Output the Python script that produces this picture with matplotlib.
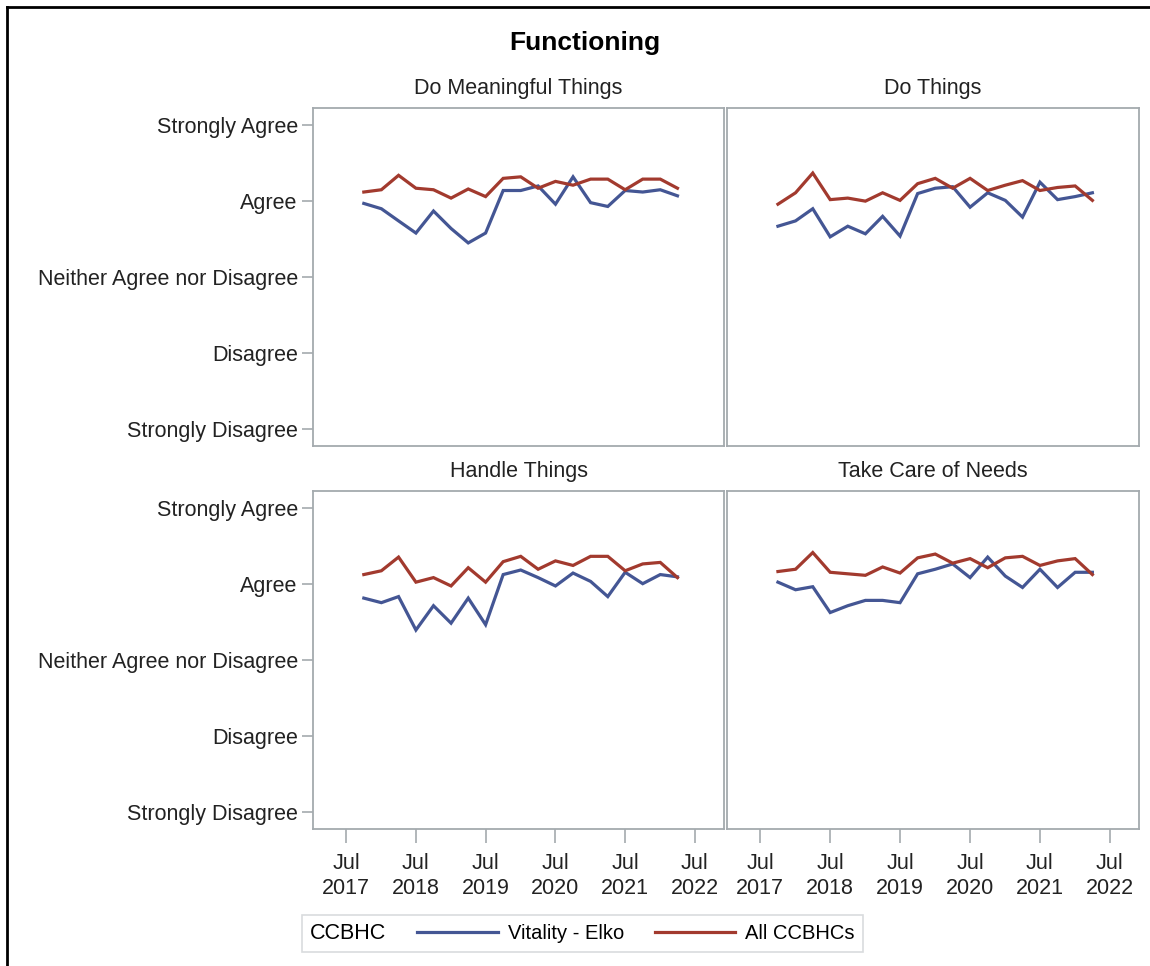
import datetime as dt
import matplotlib
matplotlib.use('Agg')
import matplotlib.pyplot as plt
import matplotlib.dates as mdates
from matplotlib.lines import Line2D

# quarterly survey dates
quarters = ['2017-10-01', '2018-01-01', '2018-04-01', '2018-07-01', '2018-10-01',
            '2019-01-01', '2019-04-01', '2019-07-01', '2019-10-01', '2020-01-01',
            '2020-04-01', '2020-07-01', '2020-10-01', '2021-01-01', '2021-04-01',
            '2021-07-01', '2021-10-01', '2022-01-01', '2022-04-01']

panel_titles = ['Do Meaningful Things', 'Do Things', 'Handle Things', 'Take Care of Needs']
series_names = ['Vitality - Elko', 'All CCBHCs']
y_labels = ['Strongly Disagree', 'Disagree', 'Neither Agree nor Disagree', 'Agree', 'Strongly Agree']

# Vitality - Elko (1 = Strongly Disagree ... 5 = Strongly Agree)
elko_meaningful = [3.97, 3.90, 3.74, 3.58, 3.87, 3.64, 3.45, 3.58, 4.14, 4.14,
                   4.20, 3.96, 4.32, 3.98, 3.93, 4.14, 4.12, 4.15, 4.07]
elko_do = [3.67, 3.74, 3.90, 3.53, 3.67, 3.57, 3.80, 3.54, 4.10, 4.17,
           4.19, 3.92, 4.11, 4.01, 3.79, 4.25, 4.02, 4.06, 4.11]
elko_handle = [3.81, 3.75, 3.83, 3.39, 3.71, 3.48, 3.81, 3.46, 4.12, 4.18,
               4.08, 3.97, 4.14, 4.03, 3.83, 4.15, 4.00, 4.12, 4.09]
elko_needs = [4.02, 3.92, 3.96, 3.62, 3.71, 3.78, 3.78, 3.75, 4.13, 4.19,
              4.26, 4.08, 4.35, 4.10, 3.95, 4.19, 3.95, 4.15, 4.15]

# All CCBHCs
all_meaningful = [4.12, 4.15, 4.34, 4.17, 4.15, 4.04, 4.16, 4.06, 4.30, 4.32,
                  4.17, 4.26, 4.21, 4.29, 4.29, 4.15, 4.29, 4.29, 4.17]
all_do = [3.96, 4.11, 4.37, 4.02, 4.04, 4.00, 4.11, 4.01, 4.23, 4.30,
          4.17, 4.30, 4.14, 4.21, 4.27, 4.14, 4.18, 4.20, 4.01]
all_handle = [4.12, 4.17, 4.35, 4.02, 4.08, 3.97, 4.21, 4.02, 4.29, 4.36,
              4.19, 4.30, 4.24, 4.36, 4.36, 4.17, 4.26, 4.28, 4.08]
all_needs = [4.16, 4.19, 4.41, 4.15, 4.13, 4.11, 4.22, 4.14, 4.34, 4.39,
             4.27, 4.33, 4.21, 4.34, 4.36, 4.24, 4.30, 4.33, 4.12]

elko = [elko_meaningful, elko_do, elko_handle, elko_needs]
allc = [all_meaningful, all_do, all_handle, all_needs]

BLUE = '#445694'
RED = '#A23A2E'
FRAME = '#A4AAAE'
TXT = '#222222'
FS = 15.5

plt.rcParams['font.family'] = ['Liberation Sans', 'DejaVu Sans']

dates = [dt.datetime.strptime(d, '%Y-%m-%d') for d in quarters]
tick_dates = [dt.datetime(y, 7, 1) for y in range(2017, 2023)]

fig = plt.figure(figsize=(11.5, 9.66), dpi=100)

# panel positions [left, bottom, width, height]
lefts = [0.2722, 0.6322]
widths = [0.3574, 0.3583]
bottoms = [0.5378, 0.1418]
height = 0.3503

for i in range(4):
    r, c = divmod(i, 2)
    ax = fig.add_axes([lefts[c], bottoms[r], widths[c], height])
    ax.plot(dates, elko[i], color=BLUE, lw=2.3, solid_joinstyle='miter')
    ax.plot(dates, allc[i], color=RED, lw=2.3, solid_joinstyle='miter')

    ax.set_xlim(dt.datetime(2017, 1, 8), dt.datetime(2022, 12, 1))
    ax.set_ylim(0.77, 5.225)
    ax.set_title(panel_titles[i], fontsize=FS, pad=10, color=TXT)

    for s in ax.spines.values():
        s.set_color(FRAME)
        s.set_linewidth(1.3)

    ax.set_yticks([1, 2, 3, 4, 5])
    ax.set_xticks(tick_dates)
    ax.xaxis.set_major_formatter(mdates.DateFormatter('%b\n%Y'))
    ax.tick_params(colors=FRAME, labelcolor=TXT, labelsize=FS, length=8, width=1.2, pad=3)
    ax.tick_params(axis='x', length=10, pad=7)

    if c == 0:
        ax.set_yticklabels(y_labels)
    else:
        ax.tick_params(axis='y', left=False, labelleft=False)
    if r == 0:
        ax.tick_params(axis='x', bottom=False, labelbottom=False)
    else:
        for lab in ax.get_xticklabels():
            lab.set_linespacing(1.25)

fig.text(0.5087, 0.955, 'Functioning', ha='center', va='center',
         fontsize=19, fontweight='bold')

# legend with inline title
handles = [Line2D([], [], color=BLUE, lw=2.3), Line2D([], [], color=RED, lw=2.3)]
leg = fig.legend(handles, series_names, title='CCBHC', ncol=2, loc='center',
                 bbox_to_anchor=(0.5065, 0.034), fontsize=14.5, title_fontsize=15.5,
                 handlelength=4.0, handletextpad=0.5, columnspacing=0.3,
                 frameon=True, fancybox=False, edgecolor='#D0D3D5',
                 borderpad=0.4)
leg.get_frame().set_linewidth(1.2)
box = leg.get_children()[0]
title_box = box.get_children()[0]
hpack = box.get_children()[1]
box._children = [hpack]
hpack._children = [title_box] + hpack.get_children()
hpack.sep = 22

# screenshot border (left and top edges)
fig.add_artist(Line2D([0.0065, 0.0065], [0, 0.9925], color='black', lw=2,
                      transform=fig.transFigure))
fig.add_artist(Line2D([0.0065, 1.0], [0.9925, 0.9925], color='black', lw=2,
                      transform=fig.transFigure))

fig.savefig('out.png', dpi=100)
